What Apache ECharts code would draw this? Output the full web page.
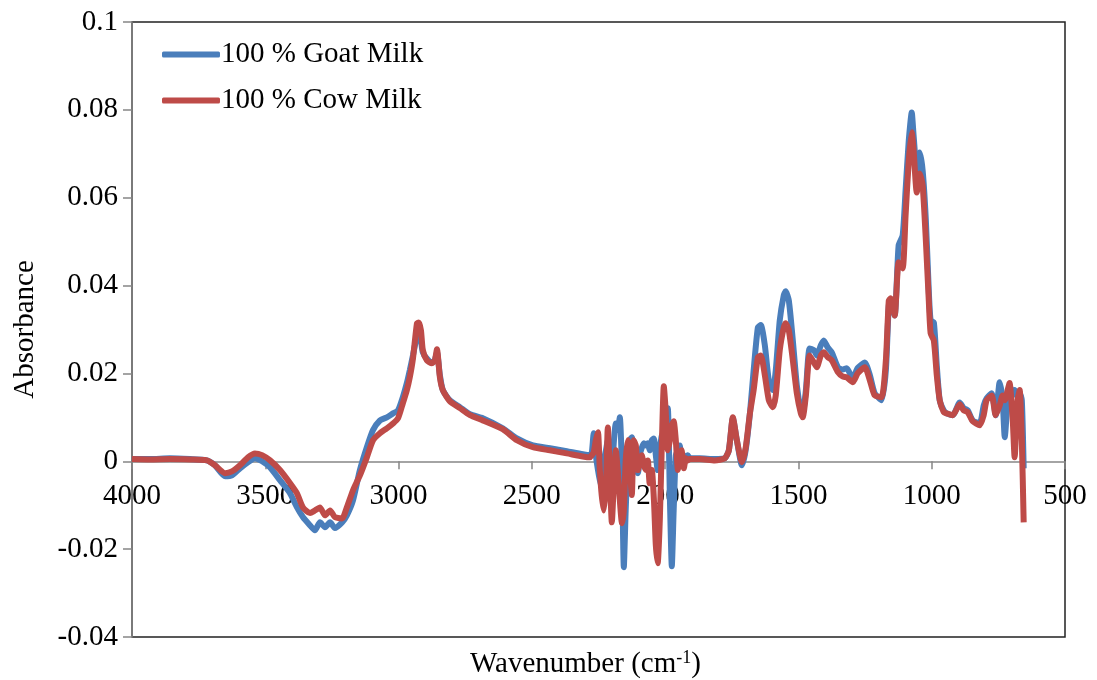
<!DOCTYPE html>
<html>
<head>
<meta charset="utf-8">
<script src="https://cdn.jsdelivr.net/npm/echarts@6/dist/echarts.min.js"></script>
<style>
html,body{margin:0;padding:0;background:#fff;}
#chart{width:1097px;height:680px;}
</style>
</head>
<body>
<div id="chart"></div>
<script>
const seriesNames = ['100 % Goat Milk', '100 % Cow Milk'];
const yTicks = [-0.04, -0.02, 0, 0.02, 0.04, 0.06, 0.08, 0.1];
const xTicks = [500, 1000, 1500, 2000, 2500, 3000, 3500, 4000];

const wavenumber = [
4000,3932,3858,3782,3719,3689,3651,3625,3595,3565,3539,3512,3482,3445,3407,3381,3359,3332,3314,3295,
3276,3257,3239,3212,3194,3171,3145,3119,3096,3070,3044,3021,3002,2984,2969,2958,2946,2931,2924,2916,
2909,2894,2875,2864,2856,2845,2834,2808,2770,2732,2684,2609,2556,2496,2432,2369,2309,2282,
2275,2268,2260,2252,2245,2238,2230,2222,2215,2208,2200,2192,2185,2178,2170,2162,2155,2148,2140,2132,
2125,2118,2110,2102,2095,2088,2080,2072,2065,2058,2050,2042,2035,2028,2020,2012,2005,1998,1990,1982,
1975,1968,1960,1952,1945,1938,1930,1922,1915,1908,
1870,1814,1776,1761,1746,1731,1712,1698,1682,1668,1652,1641,1626,1611,1596,1585,1570,1555,1548,1536,
1521,1506,1491,1484,1472,1458,1442,1431,1416,1405,1390,1375,1352,1334,1319,1296,1278,1251,1232,1214,
1188,1172,1161,1154,1139,1124,1109,1098,1086,1075,1068,1056,1045,1034,1022,1011,1004,992,981,970,
955,944,921,895,880,865,846,820,805,794,775,760,745,734,726,715,708,696,689,678,670,662,655
];

const goat = [
0.0005,0.0005,0.0007,0.0005,0.0002,-0.0009,-0.0034,-0.0032,-0.0016,-0.0002,0.0007,0.0000,-0.0014,-0.0043,-0.0073,-0.0105,-0.0127,-0.0146,-0.0157,-0.0139,
-0.0150,-0.0139,-0.0152,-0.0139,-0.0123,-0.0089,-0.0020,0.0032,0.0071,0.0093,0.0100,0.0109,0.0116,0.0146,0.0178,0.0207,0.0241,0.0287,0.0298,0.0275,
0.0248,0.0234,0.0225,0.0230,0.0248,0.0196,0.0162,0.0139,0.0123,0.0107,0.0098,0.0075,0.0052,0.0036,0.0030,0.0023,0.0016,0.0014,
0.0020,0.0064,0.0014,-0.0020,-0.0043,-0.0059,0.0002,0.0025,0.0048,0.0002,-0.0020,0.0048,0.0086,0.0071,0.0100,-0.0020,-0.0241,-0.0112,0.0002,0.0048,
0.0055,0.0014,-0.0020,-0.0027,0.0014,0.0030,0.0041,0.0036,0.0041,0.0025,0.0048,0.0052,0.0014,-0.0020,0.0025,0.0059,0.0036,0.0071,0.0121,-0.0089,
-0.0239,-0.0112,0.0014,0.0025,0.0036,-0.0002,0.0014,0.0002,0.0014,0.0007,
0.0007,0.0005,0.0007,0.0025,0.0098,0.0048,-0.0009,0.0025,0.0109,0.0207,0.0305,0.0310,0.0264,0.0184,0.0162,0.0207,0.0321,0.0378,0.0387,0.0366,
0.0275,0.0173,0.0116,0.0109,0.0162,0.0257,0.0253,0.0241,0.0264,0.0275,0.0259,0.0248,0.0214,0.0209,0.0212,0.0189,0.0212,0.0225,0.0196,0.0155,
0.0139,0.0207,0.0355,0.0366,0.0332,0.0492,0.0514,0.0617,0.0731,0.0794,0.0742,0.0662,0.0703,0.0662,0.0549,0.0389,0.0321,0.0316,0.0218,0.0139,
0.0116,0.0109,0.0105,0.0134,0.0121,0.0116,0.0093,0.0086,0.0127,0.0143,0.0155,0.0105,0.0180,0.0139,0.0055,0.0139,0.0173,0.0150,0.0162,0.0150,0.0155,0.0139,-0.0016
];

const cow = [
0.0005,0.0004,0.0005,0.0004,0.0002,-0.0009,-0.0027,-0.0023,-0.0009,0.0009,0.0018,0.0014,0.0002,-0.0020,-0.0050,-0.0073,-0.0105,-0.0118,-0.0112,-0.0105,
-0.0123,-0.0112,-0.0127,-0.0130,-0.0105,-0.0066,-0.0032,0.0009,0.0048,0.0064,0.0075,0.0086,0.0098,0.0132,0.0162,0.0191,0.0234,0.0314,0.0316,0.0298,
0.0253,0.0230,0.0223,0.0230,0.0255,0.0191,0.0162,0.0137,0.0121,0.0105,0.0093,0.0073,0.0048,0.0032,0.0025,0.0018,0.0011,0.0009,
0.0014,0.0020,0.0048,0.0066,-0.0020,-0.0077,-0.0112,-0.0055,0.0077,-0.0020,-0.0139,-0.0043,0.0025,-0.0020,-0.0089,-0.0141,-0.0112,0.0002,0.0048,-0.0020,
-0.0077,0.0048,0.0036,-0.0020,0.0002,0.0014,-0.0009,-0.0020,0.0002,-0.0050,-0.0020,-0.0089,-0.0191,-0.0232,-0.0134,0.0048,0.0171,0.0116,0.0025,0.0048,
0.0082,0.0091,0.0048,-0.0020,-0.0002,0.0025,-0.0016,0.0007,0.0002,0.0005,
0.0005,0.0002,0.0007,0.0025,0.0100,0.0048,-0.0002,0.0030,0.0109,0.0162,0.0237,0.0241,0.0196,0.0139,0.0123,0.0150,0.0253,0.0305,0.0314,0.0298,
0.0230,0.0155,0.0109,0.0100,0.0150,0.0241,0.0225,0.0214,0.0241,0.0248,0.0237,0.0230,0.0203,0.0193,0.0191,0.0180,0.0200,0.0214,0.0184,0.0150,
0.0146,0.0230,0.0366,0.0371,0.0332,0.0453,0.0439,0.0560,0.0685,0.0749,0.0708,0.0612,0.0655,0.0628,0.0503,0.0366,0.0291,0.0275,0.0196,0.0139,
0.0112,0.0109,0.0105,0.0130,0.0116,0.0112,0.0091,0.0082,0.0105,0.0139,0.0150,0.0105,0.0127,0.0150,0.0139,0.0162,0.0178,0.0093,0.0009,0.0139,0.0162,0.0048,-0.0139
];

const goatData = wavenumber.map((w, i) => [w, goat[i]]);
const cowData = wavenumber.map((w, i) => [w, cow[i]]);

const Y_MIN = -0.04, Y_MAX = 0.1;
const GRID = { left: 132, right: 32, top: 22, bottom: 43 };
const plotH = 680 - GRID.top - GRID.bottom;
// shift the x axis from the grid bottom up to the y = 0 line
const zeroOffset = -plotH * (0 - Y_MIN) / (Y_MAX - Y_MIN);

const FONT = '"Liberation Serif", "Times New Roman", serif';
const FS = 29;
const chart = echarts.init(document.getElementById('chart'), null, {renderer: 'canvas'});
chart.setOption({
  animation: false,
  backgroundColor: '#ffffff',
  title: {
    text: 'Wavenumber (cm{sup|-1})',
    left: 465,
    top: 644,
    textStyle: {
      fontFamily: FONT, fontSize: FS, fontWeight: 'normal', color: '#000',
      rich: { sup: { fontFamily: FONT, fontSize: 18, verticalAlign: 'top', padding: [0, 0, 12, 0], color: '#000' } }
    }
  },
  legend: {
    orient: 'vertical',
    left: 157,
    top: 35,
    itemGap: 17,
    itemWidth: 58,
    itemHeight: 6,
    icon: 'roundRect',
    textStyle: { fontFamily: FONT, fontSize: FS, color: '#000', padding: [0, 0, 0, -4] },
    data: seriesNames
  },
  grid: {
    left: GRID.left, right: GRID.right, top: GRID.top, bottom: GRID.bottom,
    show: true, borderColor: '#222', borderWidth: 1.5
  },
  xAxis: {
    type: 'value',
    inverse: true,
    min: 500, max: 4000, interval: 500,
    position: 'bottom',
    offset: zeroOffset,
    axisLine: { onZero: false, lineStyle: { color: '#868686', width: 1.5 } },
    axisTick: { show: true, inside: false, length: 8, lineStyle: { color: '#868686', width: 1.5 } },
    axisLabel: { fontFamily: FONT, fontSize: FS, color: '#000', margin: 21,
      formatter: v => xTicks.indexOf(v) >= 0 ? String(v) : '' },
    splitLine: { show: false }
  },
  yAxis: {
    type: 'value',
    min: Y_MIN, max: Y_MAX, interval: 0.02,
    name: 'Absorbance',
    nameLocation: 'middle',
    nameGap: 92,
    nameTextStyle: { fontFamily: FONT, fontSize: FS, color: '#000' },
    axisLine: { show: true, lineStyle: { color: '#868686', width: 1.5 } },
    axisTick: { show: true, length: 9, lineStyle: { color: '#868686', width: 1.5 } },
    axisLabel: { fontFamily: FONT, fontSize: FS, color: '#000', margin: 14,
      formatter: v => {
        const r = Math.round(v * 100) / 100;
        const t = yTicks.find(k => Math.abs(k - r) < 1e-9);
        return t === undefined ? '' : String(t);
      } },
    splitLine: { show: false }
  },
  series: [
    { name: seriesNames[0], type: 'line', data: goatData, symbol: 'none', smooth: 0.2,
      lineStyle: { color: '#4A7EBB', width: 6 }, itemStyle: { color: '#4A7EBB' } },
    { name: seriesNames[1], type: 'line', data: cowData, symbol: 'none', smooth: 0.2,
      lineStyle: { color: '#BE4B48', width: 6 }, itemStyle: { color: '#BE4B48' } }
  ]
});
</script>
</body>
</html>
